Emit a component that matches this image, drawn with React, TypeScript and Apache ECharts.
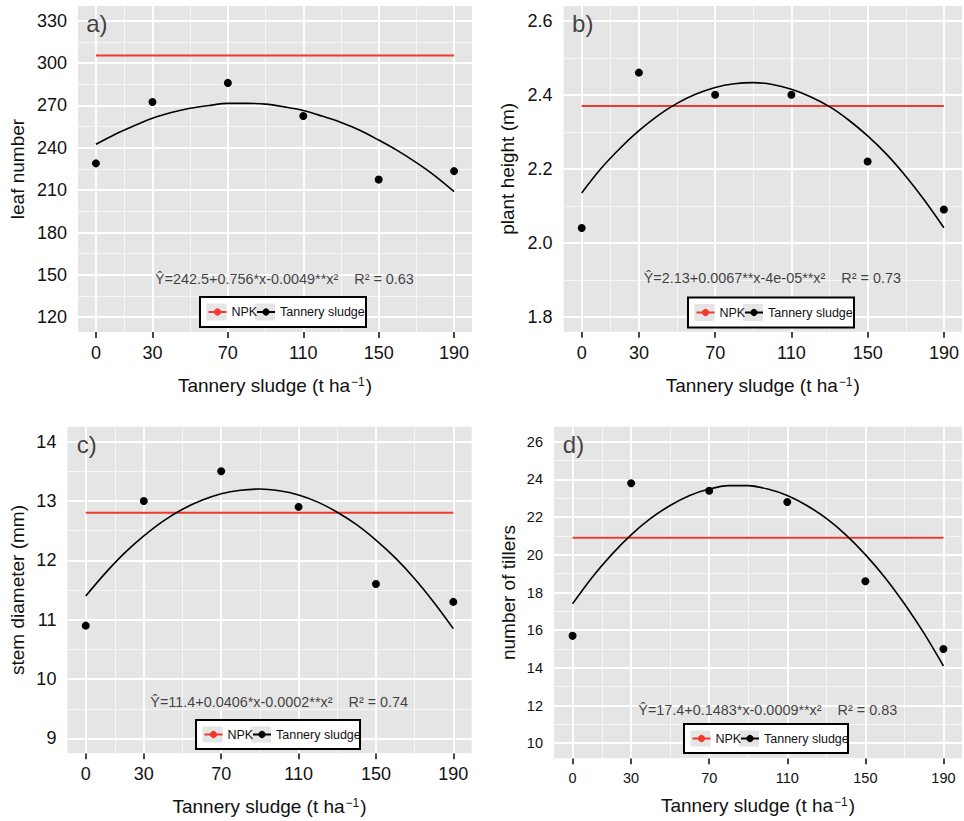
import React, { useEffect, useRef } from 'react';
import * as echarts from 'echarts';

// ---------- data ----------
const doses = [0, 30, 70, 110, 150, 190];
const fitX = [0, 10, 20, 30, 40, 50, 60, 70, 80, 90, 100, 110, 120, 130, 140, 150, 160, 170, 180, 190];
const xTicks = [0, 30, 70, 110, 150, 190];
const xMinor = [15, 50, 90, 130, 170];

const leafNumber = [229, 272.5, 286, 262.5, 217.5, 223.5];
const leafNumberNPK = 305.5;
const leafNumberFit = [242.5, 249.5, 255.5, 261, 265, 268, 270, 271.5, 271.5, 271, 269, 266.5, 262.5, 258, 252.5, 245.5, 238, 229.5, 220, 209];
const leafTicks = [120, 150, 180, 210, 240, 270, 300, 330];
const leafMinor = [135, 165, 195, 225, 255, 285, 315];

const plantHeight = [2.04, 2.46, 2.4, 2.4, 2.22, 2.09];
const plantHeightNPK = 2.37;
const plantHeightFit = [2.135, 2.2, 2.255, 2.303, 2.344, 2.377, 2.402, 2.42, 2.43, 2.433, 2.428, 2.415, 2.395, 2.368, 2.332, 2.289, 2.239, 2.18, 2.114, 2.041];
const heightTicks = [1.8, 2.0, 2.2, 2.4, 2.6];
const heightMinor = [1.9, 2.1, 2.3, 2.5];

const stemDiameter = [10.9, 13.0, 13.5, 12.9, 11.6, 11.3];
const stemDiameterNPK = 12.8;
const stemDiameterFit = [11.4, 11.78, 12.12, 12.41, 12.66, 12.86, 13.01, 13.12, 13.18, 13.2, 13.17, 13.1, 12.98, 12.81, 12.6, 12.34, 12.04, 11.69, 11.29, 10.85];
const stemTicks = [9, 10, 11, 12, 13, 14];
const stemMinor = [9.5, 10.5, 11.5, 12.5, 13.5];

const tillers = [15.7, 23.8, 23.4, 22.8, 18.6, 15.0];
const tillersNPK = 20.9;
const tillersFit = [17.4, 18.8, 20.01, 21.06, 21.93, 22.62, 23.15, 23.49, 23.67, 23.67, 23.49, 23.15, 22.62, 21.93, 21.06, 20.01, 18.8, 17.4, 15.84, 14.1];
const tillerTicks = [10, 12, 14, 16, 18, 20, 22, 24, 26];
const tillerMinor = [11, 13, 15, 17, 19, 21, 23, 25];

const seriesNames = ['NPK', 'Tannery sludge'];
const xTitle = 'Tannery sludge (t ha{sup|\u22121})';

// ---------- panel layout ----------
const panels = [
  {
    letter: 'a)', yName: 'leaf number', values: leafNumber, npk: leafNumberNPK, fit: leafNumberFit,
    yTicks: leafTicks, yMinor: leafMinor, yMin: 109.5, yMax: 340.5, fmt: (v: number) => String(v),
    grid: { left: 78, top: 6, width: 394, height: 326 }, tickFont: 18, yNameGap: 51, xNameGap: 44,
    eq: '\u0176=242.5+0.756*x-0.0049**x\u00B2', r2: 'R\u00B2 = 0.63', eqY: 147, box: [200, 297, 166, 30],
  },
  {
    letter: 'b)', yName: 'plant height (m)', values: plantHeight, npk: plantHeightNPK, fit: plantHeightFit,
    yTicks: heightTicks, yMinor: heightMinor, yMin: 1.76, yMax: 2.64, fmt: (v: number) => v.toFixed(1),
    grid: { left: 563.6, top: 6, width: 398.4, height: 325.7 }, tickFont: 18, yNameGap: 47, xNameGap: 44,
    eq: '\u0176=2.13+0.0067**x-4e-05**x\u00B2', r2: 'R\u00B2 = 0.73', eqY: 1.905, box: [688, 297.5, 166, 30],
  },
  {
    letter: 'c)', yName: 'stem diameter (mm)', values: stemDiameter, npk: stemDiameterNPK, fit: stemDiameterFit,
    yTicks: stemTicks, yMinor: stemMinor, yMin: 8.75, yMax: 14.25, fmt: (v: number) => String(v),
    grid: { left: 67.4, top: 426.7, width: 404.3, height: 326.6 }, tickFont: 18, yNameGap: 40.5, xNameGap: 44,
    eq: '\u0176=11.4+0.0406*x-0.0002**x\u00B2', r2: 'R\u00B2 = 0.74', eqY: 9.62, box: [196, 720, 164, 29],
  },
  {
    letter: 'd)', yName: 'number of tillers', values: tillers, npk: tillersNPK, fit: tillersFit,
    yTicks: tillerTicks, yMinor: tillerMinor, yMin: 9.2, yMax: 26.8, fmt: (v: number) => String(v),
    grid: { left: 554, top: 426.7, width: 408, height: 331.6 }, tickFont: 14.5, yNameGap: 36, xNameGap: 37.5,
    eq: '\u0176=17.4+0.1483*x-0.0009**x\u00B2', r2: 'R\u00B2 = 0.83', eqY: 11.75, box: [684, 724, 164, 29],
  },
];

const FONT = '"Liberation Sans", Arial, Helvetica, sans-serif';
const RED = '#EE3B2E';
const TEXT = '#111111';

function buildOption() {
  const grids: any[] = [];
  const xAxes: any[] = [];
  const yAxes: any[] = [];
  const series: any[] = [];
  const legends: any[] = [];
  const graphics: any[] = [];

  panels.forEach((p, i) => {
    grids.push({
      ...p.grid, show: true, backgroundColor: '#E5E5E5', borderWidth: 0,
      containLabel: false, outerBoundsMode: 'none',
    });
    const tickStyle = { color: '#333', width: 1.8 };
    xAxes.push({
      gridIndex: i, type: 'value', min: -9.5, max: 199.5,
      axisLine: { show: false },
      axisTick: { show: true, customValues: xTicks, length: 6, lineStyle: tickStyle },
      axisLabel: { customValues: xTicks, fontSize: p.tickFont, color: TEXT, margin: 12, fontFamily: FONT },
      splitLine: { show: false },
      name: xTitle, nameLocation: 'middle', nameGap: p.xNameGap,
      nameTextStyle: {
        fontSize: 19, color: TEXT, fontFamily: FONT, verticalAlign: 'top',
        rich: { sup: { fontSize: 12, verticalAlign: 'top', lineHeight: 12, fontFamily: FONT, color: TEXT, padding: [0, 1, 0, 1] } },
      },
    });
    yAxes.push({
      gridIndex: i, type: 'value', min: p.yMin, max: p.yMax,
      axisLine: { show: false },
      axisTick: { show: true, customValues: p.yTicks, length: 6, lineStyle: tickStyle },
      axisLabel: { customValues: p.yTicks, formatter: p.fmt, fontSize: p.tickFont, color: TEXT, margin: 11, fontFamily: FONT },
      splitLine: { show: false },
      name: p.yName, nameLocation: 'middle', nameGap: p.yNameGap, nameRotate: 90,
      nameTextStyle: { fontSize: 19, color: TEXT, fontFamily: FONT },
    });

    const major = { color: '#FFFFFF', width: 1.8, type: 'solid' };
    const minor = { color: '#F7F7F7', width: 0.9, type: 'solid' };
    series.push({
      type: 'line', name: 'grid-' + i, xAxisIndex: i, yAxisIndex: i, data: [], silent: true, z: 1,
      markLine: {
        z: 1, zlevel: 0,
        silent: true, symbol: ['none', 'none'], label: { show: false }, animation: false,
        emphasis: { disabled: true },
        data: [
          ...p.yMinor.map((v) => ({ yAxis: v, lineStyle: minor })),
          ...xMinor.map((v) => ({ xAxis: v, lineStyle: minor })),
          ...p.yTicks.map((v) => ({ yAxis: v, lineStyle: major })),
          ...xTicks.map((v) => ({ xAxis: v, lineStyle: major })),
        ],
      },
    });
    series.push({
      type: 'line', name: seriesNames[0], xAxisIndex: i, yAxisIndex: i, z: 6,
      data: [[doses[0], p.npk], [doses[doses.length - 1], p.npk]],
      symbol: 'circle', showSymbol: false, lineStyle: { color: RED, width: 2 }, itemStyle: { color: RED },
      silent: true,
    });
    series.push({
      type: 'line', name: seriesNames[1], xAxisIndex: i, yAxisIndex: i, z: 6,
      data: fitX.map((x, k) => [x, p.fit[k]]), smooth: 0.3,
      symbol: 'circle', showSymbol: false, lineStyle: { color: '#000', width: 1.6 }, itemStyle: { color: '#000' },
      silent: true,
    });
    series.push({
      type: 'scatter', name: seriesNames[1], xAxisIndex: i, yAxisIndex: i, z: 7,
      data: doses.map((x, k) => [x, p.values[k]]), symbol: 'circle', symbolSize: 8,
      itemStyle: { color: '#000', opacity: 1 }, silent: true,
    });
    // panel letter
    series.push({
      type: 'scatter', name: 'letter-' + i, xAxisIndex: i, yAxisIndex: i, z: 7,
      data: [[xTicks[0], p.yTicks[p.yTicks.length - 1]]], symbolSize: 0, silent: true,
      label: { show: true, position: 'inside', formatter: p.letter, fontSize: 24, color: TEXT, fontFamily: FONT, offset: [1, 3] },
    });
    // equation
    series.push({
      type: 'scatter', name: 'eq-' + i, xAxisIndex: i, yAxisIndex: i, z: 7,
      data: [[100, p.eqY]], symbolSize: 0, silent: true,
      label: {
        show: true, position: 'inside', formatter: p.eq + '\u00A0\u00A0\u00A0\u00A0' + p.r2,
        fontSize: 14.4, color: TEXT, fontFamily: FONT,
      },
    });

    // legend box
    const [bx, by, bw, bh] = p.box;
    graphics.push({ type: 'rect', z: 10, silent: true, shape: { x: bx, y: by, width: bw, height: bh }, style: { fill: '#FFFFFF', stroke: '#000', lineWidth: 2 } });
    graphics.push({ type: 'rect', z: 11, silent: true, shape: { x: bx + 6.5, y: by + 6.5, width: 20, height: bh - 13 }, style: { fill: '#E5E5E5' } });
    graphics.push({ type: 'rect', z: 11, silent: true, shape: { x: bx + 55, y: by + 6.5, width: 20, height: bh - 13 }, style: { fill: '#E5E5E5' } });
    const legendBase = {
      orient: 'horizontal', padding: 0, itemWidth: 18, itemHeight: 9, itemGap: 0, selectedMode: false, z: 20,
      top: by + bh / 2 - 7,
      textStyle: { fontSize: 12.5, color: TEXT, fontFamily: FONT, lineHeight: 14 },
      lineStyle: { width: 2 },
    };
    legends.push({ ...legendBase, data: [seriesNames[0]], left: bx + 7.5 });
    legends.push({ ...legendBase, data: [seriesNames[1]], left: bx + 56 });
  });

  return {
    animation: false,
    backgroundColor: '#FFFFFF',
    textStyle: { fontFamily: FONT },
    grid: grids,
    xAxis: xAxes,
    yAxis: yAxes,
    legend: legends,
    graphic: { elements: graphics },
    series,
  };
}

export default function App() {
  const ref = useRef<HTMLDivElement>(null);
  useEffect(() => {
    if (!ref.current) return;
    const chart = echarts.init(ref.current, null, { renderer: 'svg' });
    chart.setOption(buildOption() as any);
    return () => chart.dispose();
  }, []);
  return <div ref={ref} style={{ position: 'absolute', left: 0, top: 0, width: 964, height: 821 }} />;
}
